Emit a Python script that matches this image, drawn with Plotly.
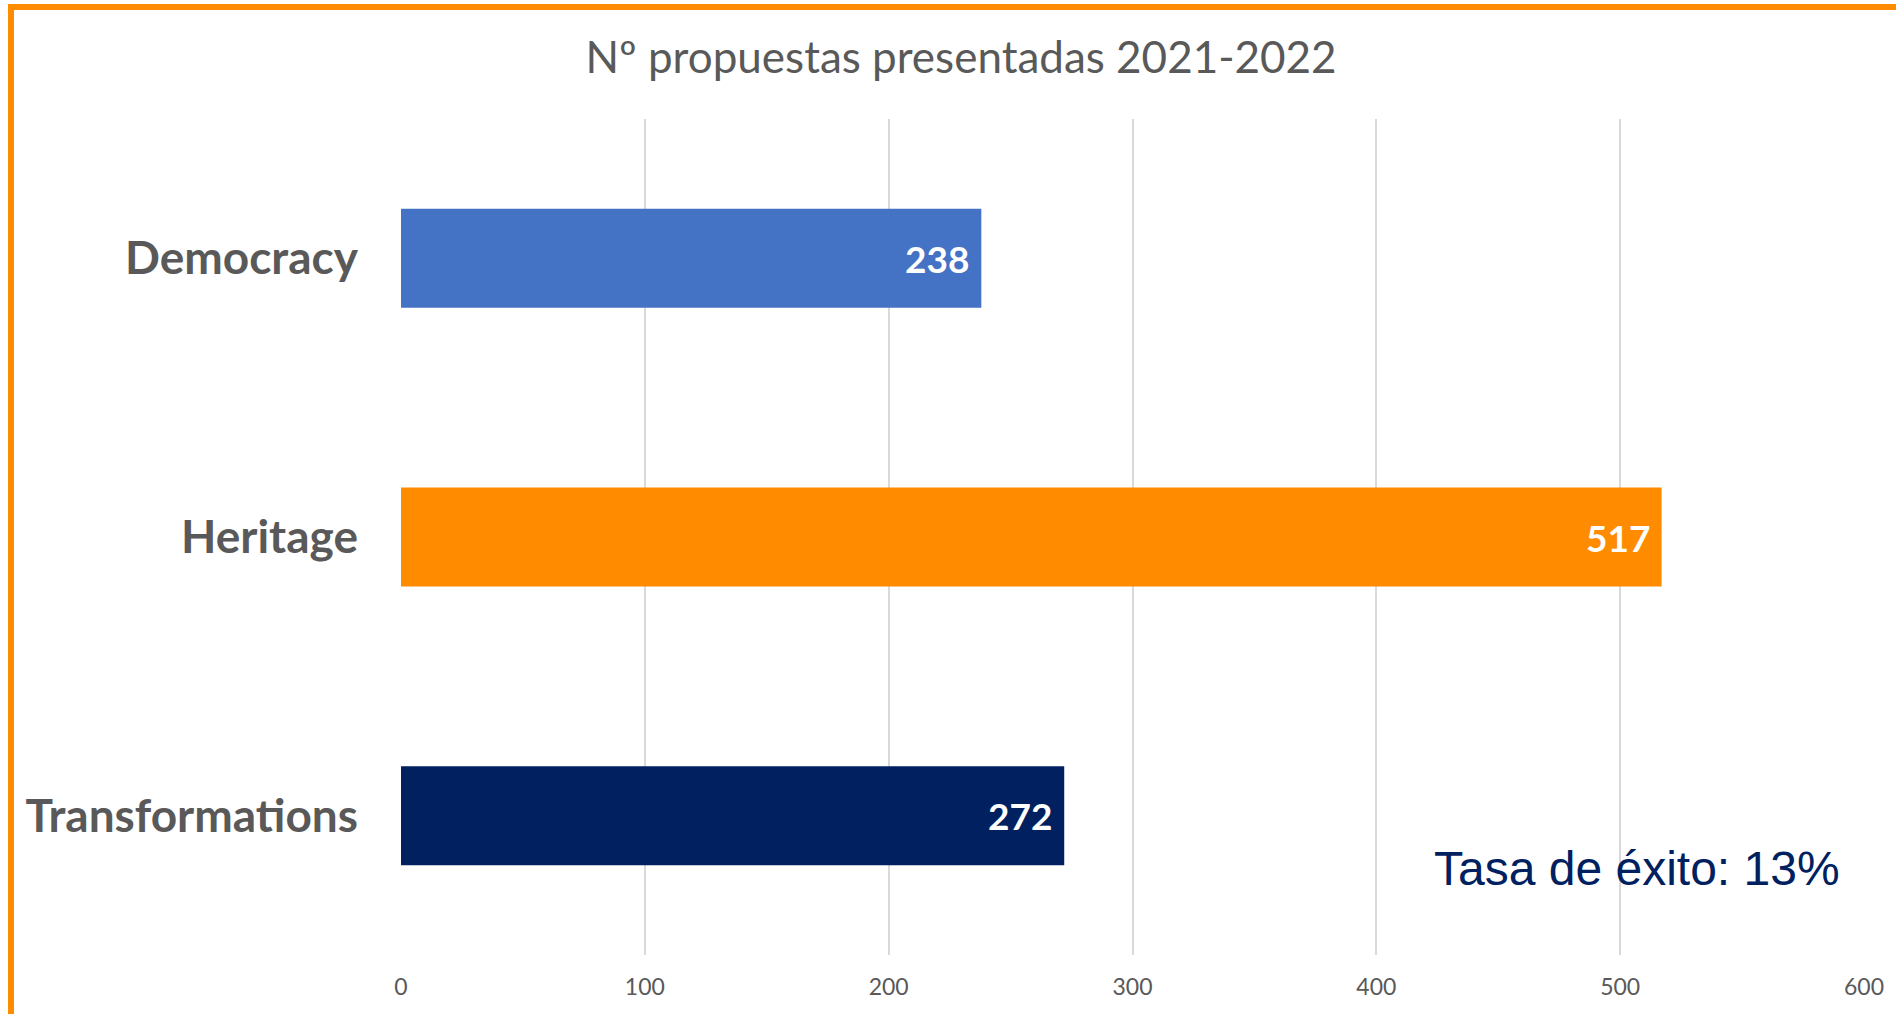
import plotly.graph_objects as go

categories = ["Democracy", "Heritage", "Transformations"]
values = [238, 517, 272]
bar_colors = ["#4472C4", "#FF8C00", "#002060"]
x_ticks = [0, 100, 200, 300, 400, 500, 600]
title_text = "Nº propuestas presentadas 2021-2022"
note_text = "Tasa de éxito: 13%"

W, H = 1896, 1014
L, R, T, B = 401, 32, 119, 59
pw, ph = W - L - R, H - T - B

def px_x(p):
    return (p - L) / pw

def px_y(p):
    return (H - B - p) / ph

fig = go.Figure()
fig.add_trace(go.Bar(
    y=categories, x=values, orientation="h",
    marker=dict(color=bar_colors, line=dict(width=0)),
    width=0.355, hoverinfo="skip",
))

annotations = []
for c, v in zip(categories, values):
    annotations.append(dict(
        x=v, y=c, xref="x", yref="y", text=f"<b>{v}</b>", showarrow=False,
        xanchor="right", yanchor="middle", xshift=-10,
        font=dict(family="Lato", size=37, color="white"),
    ))
annotations.append(dict(
    x=px_x(1842), y=px_y(868), xref="paper", yref="paper", text=note_text,
    showarrow=False, xanchor="right", yanchor="middle",
    font=dict(family="Liberation Sans, Arial", size=48, color="#002060"),
))

shapes = [
    dict(type="line", xref="paper", yref="paper", x0=px_x(8), x1=px_x(1920),
         y0=px_y(7), y1=px_y(7), line=dict(color="#FF8C00", width=6)),
    dict(type="line", xref="paper", yref="paper", x0=px_x(11), x1=px_x(11),
         y0=px_y(4), y1=px_y(1040), line=dict(color="#FF8C00", width=6)),
]

fig.update_layout(
    width=W, height=H,
    margin=dict(l=L, r=R, t=T, b=B, autoexpand=False),
    paper_bgcolor="white", plot_bgcolor="white",
    showlegend=False,
    title=dict(text=title_text, x=961 / W, xref="container", xanchor="center",
               y=1 - 58 / H, yref="container", yanchor="middle",
               font=dict(family="Lato", size=44, color="#595959")),
    xaxis=dict(range=[0, 600], tickvals=x_ticks, showgrid=True,
               gridcolor="#D9D9D9", gridwidth=1.5, zeroline=False,
               showline=False, ticks="", ticklabelstandoff=16,
               tickfont=dict(family="Lato", size=23, color="#595959"),
               fixedrange=True),
    yaxis=dict(categoryorder="array", categoryarray=categories[::-1],
               showgrid=False, zeroline=False, showline=False, ticks="",
               ticklabelstandoff=42,
               tickfont=dict(family="Lato", size=46, color="#595959", weight="bold"),
               fixedrange=True),
    annotations=annotations,
    shapes=shapes,
)

fig.write_html("out.html", config={"displayModeBar": False},
               post_script="document.body.style.margin='0px';document.body.style.overflow='hidden';")
